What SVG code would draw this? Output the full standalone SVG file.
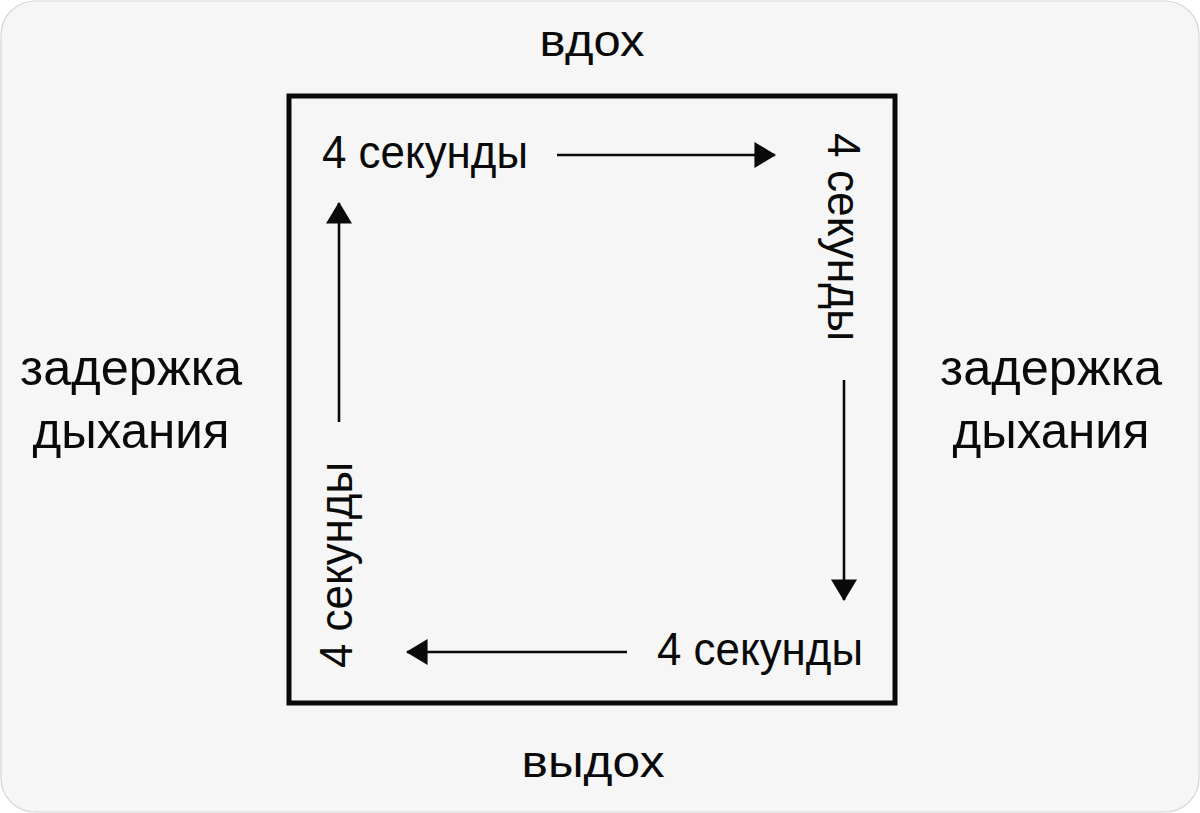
<svg xmlns="http://www.w3.org/2000/svg" width="1200" height="813" viewBox="0 0 1200 813">
  <defs>
    <style>
      .t { font-family: "Liberation Sans", Arial, sans-serif; fill: #0a0a0a; }
      .sec { font-size: 46px; }
      .side { font-size: 50px; text-anchor: middle; }
      .phase { font-size: 45px; text-anchor: middle; }
      .conn { stroke: #0a0a0a; stroke-width: 2.6; fill: none; marker-end: url(#arrow); }
    </style>
    <marker id="arrow" markerUnits="userSpaceOnUse" markerWidth="22" markerHeight="26" viewBox="0 0 20 24" refX="19" refY="12" orient="auto">
      <path d="M0,0 L20,12 L0,24 Z" fill="#0a0a0a"/>
    </marker>
  </defs>
  <rect x="0" y="0" width="1200" height="813" fill="#ffffff"/>
  <rect id="background" x="1" y="1" width="1198" height="811" rx="34" ry="34" fill="#f6f6f6" stroke="#d6d6d6" stroke-width="1.2"/>

  <g id="box">
    <rect x="289" y="96" width="606" height="607" fill="none" stroke="#0a0a0a" stroke-width="5"/>
  </g>

  <g id="label-inhale">
    <text class="t phase" x="592" y="56" textLength="105" lengthAdjust="spacingAndGlyphs">вдох</text>
  </g>
  <g id="label-exhale">
    <text class="t phase" x="593" y="777" textLength="143" lengthAdjust="spacingAndGlyphs">выдох</text>
  </g>
  <g id="label-hold-left">
    <text class="t side" x="131" y="385" textLength="222" lengthAdjust="spacingAndGlyphs">задержка</text>
    <text class="t side" x="131" y="448" textLength="197" lengthAdjust="spacingAndGlyphs">дыхания</text>
  </g>
  <g id="label-hold-right">
    <text class="t side" x="1051" y="385" textLength="222" lengthAdjust="spacingAndGlyphs">задержка</text>
    <text class="t side" x="1051" y="448" textLength="197" lengthAdjust="spacingAndGlyphs">дыхания</text>
  </g>

  <g id="sec-top">
    <text class="t sec" x="322" y="168" textLength="206" lengthAdjust="spacingAndGlyphs">4 секунды</text>
  </g>
  <g id="sec-right">
    <text class="t sec" transform="translate(828,133) rotate(90)" x="0" y="0" textLength="208" lengthAdjust="spacingAndGlyphs">4 секунды</text>
  </g>
  <g id="sec-bottom">
    <text class="t sec" x="657" y="665" textLength="206" lengthAdjust="spacingAndGlyphs">4 секунды</text>
  </g>
  <g id="sec-left">
    <text class="t sec" transform="translate(352,668) rotate(-90)" x="0" y="0" textLength="206" lengthAdjust="spacingAndGlyphs">4 секунды</text>
  </g>

  <g id="connectors">
    <line class="conn" x1="557" y1="155" x2="775" y2="155"/>
    <line class="conn" x1="844" y1="380" x2="844" y2="600"/>
    <line class="conn" x1="627" y1="652" x2="407" y2="652"/>
    <line class="conn" x1="339" y1="422" x2="339" y2="203"/>
  </g>
</svg>
